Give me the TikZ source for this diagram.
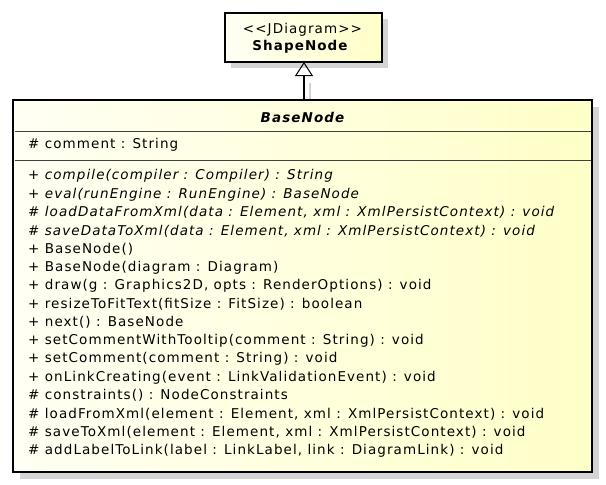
\documentclass[tikz,border=0pt]{standalone}
\usepackage{fontspec}
\setmainfont{DejaVu Sans}[LetterSpace=8]
\usetikzlibrary{positioning,arrows.meta}

\definecolor{umlfill}{HTML}{FFFFC8}
\definecolor{umlpale}{HTML}{FFFFF4}
\definecolor{umlshadow}{HTML}{D4D4D4}
\definecolor{umlrule}{HTML}{404040}

\begin{document}
\begin{tikzpicture}[x=1pt, y=-1pt,
% node styles
classbox/.style={draw=black, line width=2.6pt, left color=umlpale, right color=umlfill, shading angle=90},
member/.style={anchor=west, inner sep=0pt, font=\fontsize{13.5}{15}\selectfont},
title/.style={inner sep=0pt, font=\fontsize{13.5}{15}\selectfont}
]
\useasboundingbox (0,0) rectangle (606,485);

% shadows
\fill[umlshadow] (231,19) rectangle (388,68);
\fill[umlshadow] (20,107) rectangle (599,479);
\draw[umlshadow, line width=1.2pt] (310,83) -- (310,107);

% boxes
\path[classbox] (225,13) rectangle (382,62);
\path[classbox] (13,100) rectangle (592,472);
\coordinate (shape_s) at (304,62);
\coordinate (base_n) at (304,100);

% compartment rules
\draw[umlrule, line width=0.9pt] (14.5,131) -- (590.5,131);
\draw[umlrule, line width=0.9pt] (14.5,160) -- (590.5,160);

% titles
\node[title] (stereo) at (302.5,30) {<{}<JDiagram>{}>};
\node[title] (shapenode) at (300,47) {\bfseries ShapeNode};
\node[title] (basenode) at (302.5,117) {\bfseries\itshape BaseNode};

% attribute
\node[member] (attr) at (28,145) {\# comment : String};

% operations
\foreach \txt [count=\i from 0] in {
  {\itshape + compile(compiler : Compiler) : String},
  {\itshape + eval(runEngine : RunEngine) : BaseNode},
  {\itshape \# loadDataFromXml(data : Element, xml : XmlPersistContext) : void},
  {\itshape \# saveDataToXml(data : Element, xml : XmlPersistContext) : void},
  {+ BaseNode()},
  {+ BaseNode(diagram : Diagram)},
  {+ draw(g : Graphics2D, opts : RenderOptions) : void},
  {+ resizeToFitText(fitSize : FitSize) : boolean},
  {+ next() : BaseNode},
  {+ setCommentWithTooltip(comment : String) : void},
  {+ setComment(comment : String) : void},
  {+ onLinkCreating(event : LinkValidationEvent) : void},
  {\# constraints() : NodeConstraints},
  {\# loadFromXml(element : Element, xml : XmlPersistContext) : void},
  {\# saveToXml(element : Element, xml : XmlPersistContext) : void},
  {\# addLabelToLink(label : LinkLabel, link : DiagramLink) : void}}
  \node[member] (op\i) at (28,176+18.3*\i) {\txt};

% generalization
\draw[line width=1.2pt, -{Triangle[open, length=14pt, width=18pt, line width=1pt]}] (base_n) -- (shape_s);

\end{tikzpicture}
\end{document}
